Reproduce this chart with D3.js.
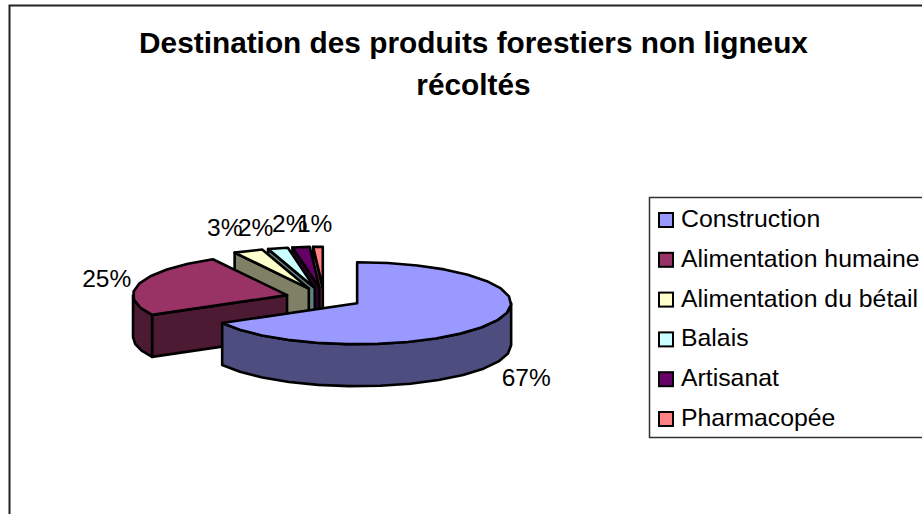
<!DOCTYPE html>
<html><head><meta charset="utf-8">
<script src="https://cdn.jsdelivr.net/npm/d3@7/dist/d3.min.js"></script>
<style>html,body{margin:0;padding:0;background:#fff;overflow:hidden}svg{display:block;font-family:"Liberation Sans",Arial,sans-serif}</style>
</head><body><svg id="c" width="922" height="514"></svg>
<script>
const categories=["Construction","Alimentation humaine","Alimentation du bétail","Balais","Artisanat","Pharmacopée"];
const values=[67.0,25.0,3.1,2.1,1.8,1.0];
const labels=["67%","25%","3%","2%","2%","1%"];
const topColors=["#9999FF","#993366","#FFFFCC","#CCFFFF","#660066","#FF8080"];
const sideColors=["#4D4D80","#4D1A33","#808066","#668080","#330033","#804040"];
const titleLines=["Destination des produits forestiers non ligneux","récoltés"];

const W=922,H=514,center=[324,298],rx=154,ry=41,depth=42,explode=0.25,facet=Math.PI/16;
// label placement: anchor offset from the slice's rim point (pixels)
const labelNudge=[[12,20],[-57,3],[-41,-15],[-40,-12],[-29,-15],[-21,-15]];

const svg=d3.select("#c");
svg.append("rect").attr("width",W).attr("height",H).attr("fill","#fff");
svg.append("path").attr("d",`M9.5,${H+2}V5.5H${W+2}`).attr("fill","none").attr("stroke","#222").attr("stroke-width",2);

svg.append("g").selectAll("text").data(titleLines).join("text")
 .attr("x",473.5).attr("y",(d,i)=>53+i*42).attr("text-anchor","middle")
 .attr("font-weight","bold").attr("font-size",29.8).attr("fill","#000").text(d=>d);

const arcs=d3.pie().sort(null).value(d=>d)(values);
const sx=d3.scaleLinear().domain([-1,1]).range([-rx,rx]);
const sy=d3.scaleLinear().domain([-1,1]).range([ry,-ry]); // +1 is up
const pt=(c,a,dz=0)=>[c[0]+sx(Math.sin(a)),c[1]+sy(Math.cos(a))+dz];
const line=d3.line();
function arcPts(c,a0,a1,dz=0){
  const n=Math.max(1,Math.round((a1-a0)/facet)),out=[];
  for(let i=0;i<=n;i++)out.push(pt(c,a0+(a1-a0)*i/n,dz));
  return out;
}
const slices=arcs.map((d,i)=>{
  const mid=(d.startAngle+d.endAngle)/2;
  return {d,i,mid,c:[center[0]+explode*sx(Math.sin(mid)),center[1]+explode*sy(Math.cos(mid))]};
});
const g=svg.append("g").attr("stroke","#000").attr("stroke-width",2.6).attr("stroke-linejoin","round");
// back slices first, the front one last
slices.slice().reverse().forEach(s=>{
  const {d,i,c}=s;
  if(i>0){
    const e=pt(c,d.startAngle);
    const wall=[c,e,[e[0],e[1]+depth],[c[0],c[1]+depth]];
    g.append("path").attr("d",line(wall)+"Z").attr("fill",sideColors[i]);
  }
  const a0=Math.max(d.startAngle,Math.PI/2),a1=Math.min(d.endAngle,Math.PI*1.5);
  if(a1>a0){
    const up=arcPts(c,a0,a1),down=arcPts(c,a0,a1,depth).reverse();
    g.append("path").attr("d",line(up.concat(down))+"Z").attr("fill",sideColors[i]);
  }
  g.append("path").attr("d",line([c].concat(arcPts(c,d.startAngle,d.endAngle)))+"Z").attr("fill",topColors[i]);
});
svg.append("g").selectAll("text").data(slices).join("text")
 .attr("x",s=>pt(s.c,s.mid)[0]+labelNudge[s.i][0])
 .attr("y",s=>pt(s.c,s.mid)[1]+labelNudge[s.i][1]+(s.i===0?depth:0))
 .attr("font-size",24.5).attr("fill","#000").text(s=>labels[s.i]);

// legend
const rowY=d3.scalePoint().domain(categories).range([219.5,418.5]);
svg.append("path").attr("d",`M${W+2},197.5H649.5V437.5H${W+2}`).attr("fill","#fff").attr("stroke","#333").attr("stroke-width",1.5);
const lg=svg.append("g").selectAll("g").data(categories).join("g").attr("transform",d=>`translate(0,${rowY(d)})`);
lg.append("rect").attr("x",659).attr("y",-6.5).attr("width",14).attr("height",14).attr("fill",(d,i)=>topColors[i]).attr("stroke","#000").attr("stroke-width",2);
lg.append("text").attr("x",681).attr("y",7.5).attr("font-size",24.8).attr("fill","#000").text(d=>d);
</script></body></html>
